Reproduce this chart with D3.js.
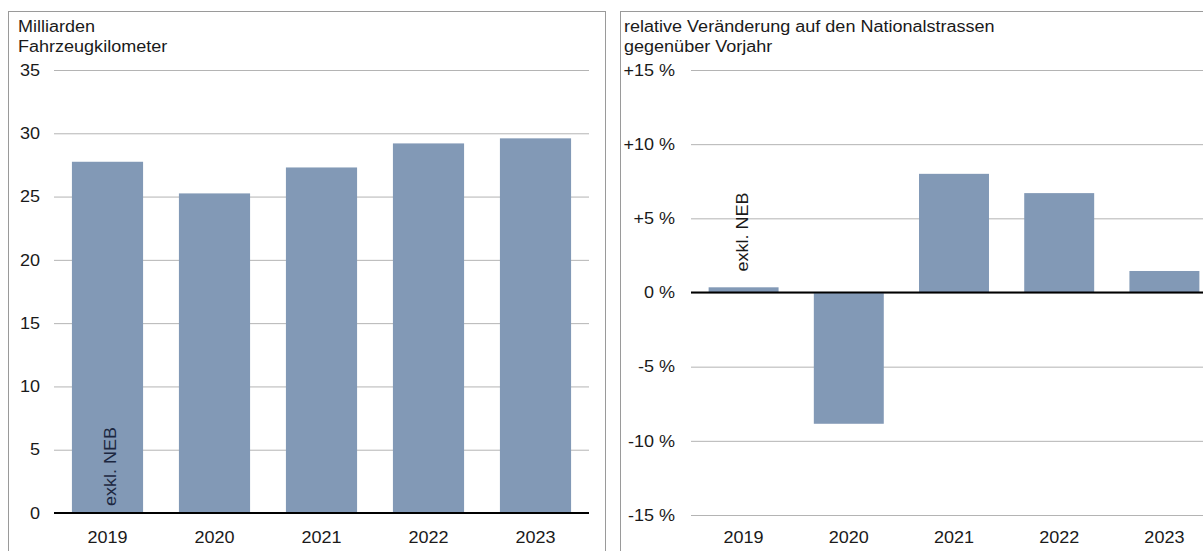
<!DOCTYPE html>
<html>
<head>
<meta charset="utf-8">
<script src="https://cdn.jsdelivr.net/npm/d3@7"></script>
<style>
  body { margin: 0; background: #fff; }
  svg text { font-family: "Liberation Sans", Arial, sans-serif; font-size: 16.4px; fill: #1a1a1a; }
</style>
</head>
<body>
<svg id="chart" width="1203" height="551"></svg>
<script>
const years = ["2019", "2020", "2021", "2022", "2023"];
const kmValues = [27.75, 25.25, 27.3, 29.2, 29.6];      // Milliarden Fahrzeugkilometer
const changeValues = [0.35, -8.85, 8.0, 6.7, 1.45];     // % gegenüber Vorjahr
const kmTicks = [0, 5, 10, 15, 20, 25, 30, 35];
const changeTicks = [-15, -10, -5, 0, 5, 10, 15];
const leftTitle = ["Milliarden", "Fahrzeugkilometer"];
const rightTitle = ["relative Veränderung auf den Nationalstrassen", "gegenüber Vorjahr"];
const note = "exkl. NEB";

const barColor = "#8299b6";
const gridColor = "#b4b4b4";
const SX = 1.1; // the source text is a bit wider than Arial

const svg = d3.select("#chart");

// stretch text horizontally around its anchor point
function stretch(sel) {
	sel.each(function () {
		const t = d3.select(this);
		const x = +t.attr("x") || 0;
		const y = +t.attr("y") || 0;
		t.attr("x", 0).attr("y", 0)
			.attr("transform", "translate(" + x + "," + y + ") scale(" + SX + ",1)");
	});
}

function panel(x0, y0, x1) {
	svg.append("rect")
		.attr("x", x0 + 0.5).attr("y", y0 + 0.5)
		.attr("width", x1 - x0).attr("height", 600)
		.attr("fill", "none").attr("stroke", "#9a9a9a");
}

function title(lines, x) {
	svg.selectAll(null)
		.data(lines)
		.enter()
		.append("text")
		.attr("x", x)
		.attr("y", function (d, i) { return 31.5 + i * 20.5 })
		.text(function (d) { return d })
		.call(stretch);
}

function drawChart(opt) {
	const x = d3.scaleBand()
		.domain(years)
		.range(opt.xRange)
		.paddingInner(0.335)
		.paddingOuter(0.1675);

	const y = d3.scaleLinear()
		.domain(opt.yDomain)
		.range(opt.yRange);

	const gridRight = Math.min(opt.xRange[1], 1203);

	// grid + tick labels
	const yAxis = svg.append("g")
		.attr("transform", "translate(" + opt.xRange[0] + ",0)")
		.call(d3.axisLeft(y)
			.tickValues(opt.ticks)
			.tickSize(-(gridRight - opt.xRange[0]))
			.tickPadding(opt.labelPad)
			.tickFormat(opt.format));
	yAxis.select(".domain").remove();
	yAxis.selectAll(".tick line").attr("stroke", gridColor).attr("stroke-width", 1);
	yAxis.selectAll(".tick text").call(stretch);

	// bars
	svg.append("g")
		.selectAll("rect")
		.data(opt.values)
		.enter()
		.append("rect")
		.attr("x", function (d, i) { return x(years[i]) })
		.attr("width", x.bandwidth())
		.attr("y", function (d) { return y(Math.max(0, d)) })
		.attr("height", function (d) { return Math.abs(y(d) - y(0)) })
		.attr("fill", barColor);

	// zero line
	svg.append("line")
		.attr("x1", opt.xRange[0]).attr("x2", gridRight)
		.attr("y1", y(0)).attr("y2", y(0))
		.attr("stroke", "#000").attr("stroke-width", 2);

	// year labels
	svg.selectAll(null)
		.data(years)
		.enter()
		.append("text")
		.attr("x", function (d) { return x(d) + x.bandwidth() / 2 })
		.attr("y", 543)
		.attr("text-anchor", "middle")
		.text(function (d) { return d })
		.call(stretch);

	// note on the first bar
	svg.append("text")
		.attr("transform", "translate(" + (x(years[0]) + x.bandwidth() / 2 + opt.noteDx) + "," + opt.noteY + ") rotate(-90) scale(" + SX + ",1)")
		.style("fill", opt.noteColor)
		.text(note);
}

panel(8, 11, 605);
panel(620, 11, 1250);
title(leftTitle, 18);
title(rightTitle, 624);

drawChart({
	xRange: [54, 589],
	yDomain: [0, 35],
	yRange: [513, 70],
	ticks: kmTicks,
	labelPad: 14,
	format: function (d) { return d },
	values: kmValues,
	noteDx: 8.5,
	noteY: 506,
	noteColor: "#1c2740"
});

drawChart({
	xRange: [691, 1217],
	yDomain: [-15, 15],
	yRange: [515, 70],
	ticks: changeTicks,
	labelPad: 16,
	format: function (d) { return (d > 0 ? "+" : "") + d + " %" },
	values: changeValues,
	noteDx: 4.5,
	noteY: 271.5,
	noteColor: "#1a1a1a"
});
</script>
</body>
</html>
